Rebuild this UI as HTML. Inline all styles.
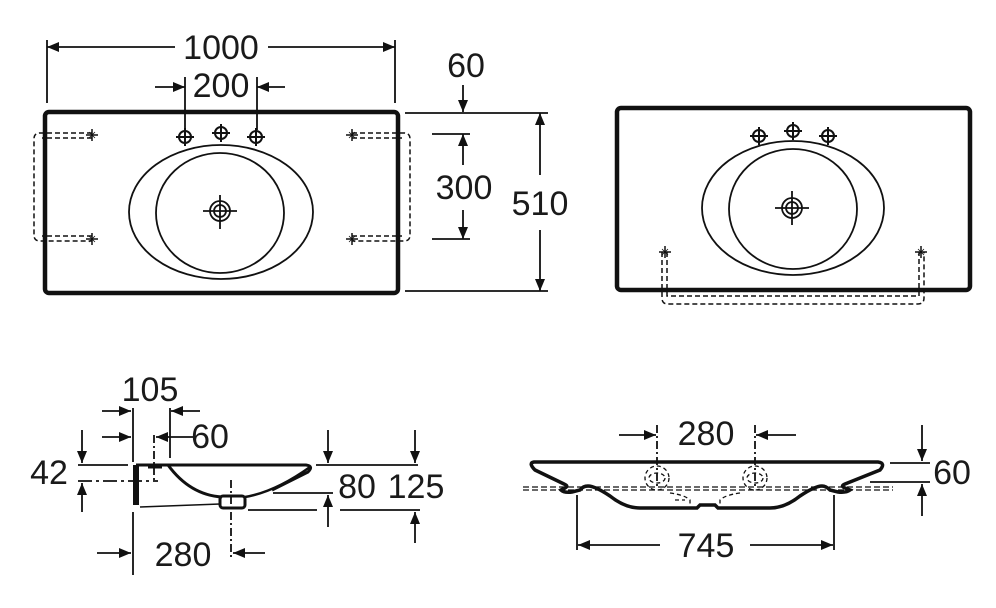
<!DOCTYPE html>
<html><head><meta charset="utf-8"><style>
html,body{margin:0;padding:0;background:#fff}
svg{display:block}
text{font-family:"Liberation Sans",Arial,sans-serif;font-size:34px;fill:#1a1a1a;text-anchor:middle}
</style></head><body>
<svg width="996" height="608" viewBox="0 0 996 608" xmlns="http://www.w3.org/2000/svg">
<defs>
<marker id="a" viewBox="0 0 12 10" refX="12" refY="5" markerWidth="12" markerHeight="10" markerUnits="userSpaceOnUse" orient="auto"><path d="M0,0 L12,5 L0,10 Z" fill="#111"/></marker>
<g id="tap"><circle r="6" fill="none" stroke="#111" stroke-width="2"/><path d="M-9,0H9M0,-9V9" stroke="#111" stroke-width="2"/></g>
<g id="star"><path d="M-6,0H6M0,-6V6" stroke="#111" stroke-width="1.5"/><path d="M-3,-3L3,3M-3,3L3,-3" stroke="#111" stroke-width="0.8"/></g>
</defs>
<g stroke="#111" fill="none" stroke-width="1.8">
<!-- TOP LEFT -->
<rect x="45" y="112" width="353" height="181" rx="4" stroke-width="4.5"/>
<ellipse cx="221" cy="212" rx="92" ry="67"/>
<ellipse cx="220" cy="213" rx="64" ry="60"/>
<circle cx="220" cy="211" r="10"/><circle cx="220" cy="211" r="6"/>
<path d="M203,211H237M220,195V229"/>
<g stroke-dasharray="5,3" stroke-width="1.5">
<path d="M92,133H40Q34,133 34,139V235Q34,241 40,241H92"/>
<path d="M92,138H42M92,236H42"/>
<path d="M352,133H404Q410,133 410,139V235Q410,241 404,241H352"/>
<path d="M352,138H402M352,236H402"/>
</g>
<use href="#star" x="92" y="135"/><use href="#star" x="92" y="239"/>
<use href="#star" x="352" y="135"/><use href="#star" x="352" y="239"/>
<use href="#tap" x="185" y="137"/><use href="#tap" x="221" y="133"/><use href="#tap" x="256" y="137"/>
<!-- dims top-left -->
<path d="M47,40V103M395,40V103M185,77V130M257,77V130"/>
<path d="M175,47H47" marker-end="url(#a)"/><path d="M268,47H395" marker-end="url(#a)"/>
<path d="M155,87H185" marker-end="url(#a)"/><path d="M285,87H257" marker-end="url(#a)"/>
<path d="M463,85V112" marker-end="url(#a)"/>
<path d="M405,113H548M405,291H548M432,134H470M432,239H470"/>
<path d="M463,165V134" marker-end="url(#a)"/><path d="M463,210V239" marker-end="url(#a)"/>
<path d="M540,175V113" marker-end="url(#a)"/><path d="M540,230V291" marker-end="url(#a)"/>
<!-- TOP RIGHT -->
<rect x="617" y="108" width="353" height="182" rx="4" stroke-width="4.5"/>
<ellipse cx="793" cy="208" rx="91" ry="67"/>
<ellipse cx="793" cy="209" rx="64" ry="60"/>
<circle cx="792" cy="208" r="10"/><circle cx="792" cy="208" r="6"/>
<path d="M775,208H809M792,191V225"/>
<use href="#tap" x="759" y="136"/><use href="#tap" x="793" y="131"/><use href="#tap" x="828" y="136"/>
<g stroke-dasharray="5,3" stroke-width="1.5">
<path d="M662,252V298Q662,304 668,304H918Q924,304 924,298V252"/>
<path d="M667,252V296H919V252"/>
</g>
<use href="#star" x="665" y="252"/><use href="#star" x="921" y="252"/>
<!-- BOTTOM LEFT -->
<path d="M136,465H306Q314,466 308,472L272,490" stroke-width="3"/>
<path d="M136,465V505" stroke-width="6"/>
<path d="M168,465Q190,495 222,497" stroke-width="3"/>
<path d="M245,497Q275,492 310,467" stroke-width="2.5"/>
<path d="M140,507L220,504" stroke-width="1.5"/>
<rect x="220" y="496" width="25" height="12" rx="3" stroke-width="3"/>
<path d="M148,467H162" stroke-width="3"/>
<path d="M133,408V462M170,408V458M133,512V575"/>
<path d="M154,435V483" stroke-dasharray="8,3,2,3"/>
<path d="M231,480V560" stroke-dasharray="8,3,2,3"/>
<path d="M102,411H131" marker-end="url(#a)"/><path d="M200,411H171" marker-end="url(#a)"/>
<path d="M102,437H131" marker-end="url(#a)"/><path d="M195,437H156" marker-end="url(#a)"/>
<path d="M82,430V463" marker-end="url(#a)"/><path d="M82,512V483" marker-end="url(#a)"/>
<path d="M78,465H128"/><path d="M78,481H158" stroke-dasharray="14,4,3,4"/>
<path d="M316,465H418M273,493H333M248,510H317M340,510H420"/>
<path d="M328,430V463" marker-end="url(#a)"/><path d="M328,527V495" marker-end="url(#a)"/>
<path d="M415,430V463" marker-end="url(#a)"/><path d="M415,543V512" marker-end="url(#a)"/>
<path d="M97,553H131" marker-end="url(#a)"/><path d="M265,553H233" marker-end="url(#a)"/>
<!-- BOTTOM RIGHT -->
<path d="M534,462H878Q886,463 880,470L845,484Q840,486 845,488L850,490Q846,493 838,492L830,490Q826,486 822,486Q815,486 800,496Q785,508 770,508H718L715,505H700L697,508H640Q625,508 610,496Q595,486 588,486Q583,486 580,490L572,492Q564,493 561,490L565,488Q569,486 564,484L535,470Q528,463 534,462Z" stroke-width="3.5"/>
<path d="M523,487H893M523,490H893" stroke-dasharray="6,3" stroke-width="1.2"/>
<g stroke-dasharray="4,3" stroke-width="1.3">
<ellipse cx="657" cy="478" rx="8" ry="5"/><ellipse cx="755" cy="478" rx="8" ry="5"/>
<circle cx="657" cy="478" r="12"/><circle cx="755" cy="478" r="12"/>
<path d="M670,493Q685,495 690,500L690,508M675,500H685M740,493Q725,495 720,500L720,508"/>
</g>
<path d="M657,425V488M755,425V488" stroke-dasharray="8,3,2,3"/>
<path d="M619,435H656" marker-end="url(#a)"/><path d="M796,435H756" marker-end="url(#a)"/>
<path d="M890,463H930M870,482H930"/>
<path d="M922,425V461" marker-end="url(#a)"/><path d="M922,516V484" marker-end="url(#a)"/>
<path d="M577,495V550M834,495V550"/>
<path d="M660,545H578" marker-end="url(#a)"/><path d="M750,545H833" marker-end="url(#a)"/>
</g>
<g>
<text x="221" y="59">1000</text>
<text x="221" y="97">200</text>
<text x="466" y="77">60</text>
<text x="464" y="199">300</text>
<text x="540" y="215">510</text>
<text x="150" y="401">105</text>
<text x="210" y="448">60</text>
<text x="49" y="484">42</text>
<text x="357" y="498">80</text>
<text x="416" y="498">125</text>
<text x="183" y="566">280</text>
<text x="706" y="445">280</text>
<text x="952" y="484">60</text>
<text x="706" y="557">745</text>
</g>
</svg>
</body></html>
